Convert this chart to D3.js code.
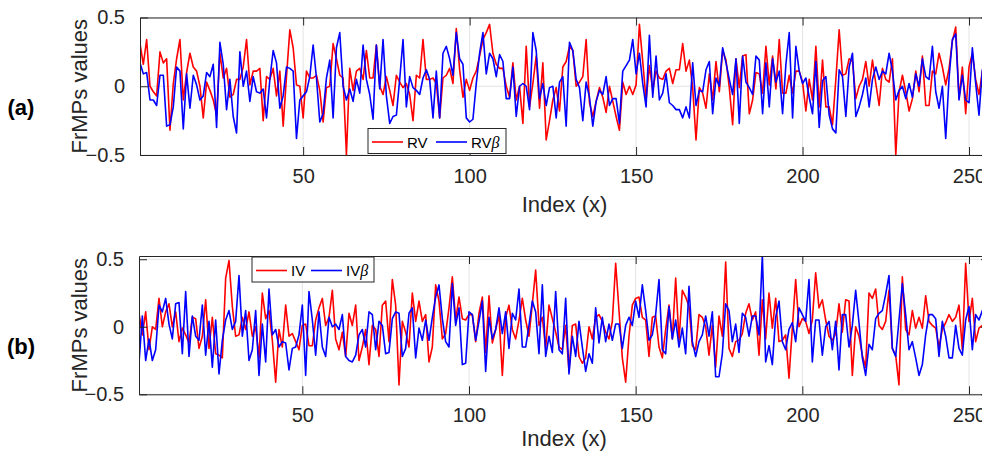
<!DOCTYPE html>
<html>
<head>
<meta charset="utf-8">
<script src="https://cdn.jsdelivr.net/npm/d3@7"></script>
<style>
  body { margin: 0; background: #fff; }
  svg { display: block; font-family: "Liberation Sans", Arial, sans-serif; }
</style>
</head>
<body>
<div id="chart"></div>
<script>
// FrMPs values, panel (a)
const rv = [
  0.31,0.16,0.34,0.00,-0.04,-0.07,0.25,0.17,0.20,-0.32,0.02,0.20,0.34,-0.10,0.10,0.24,
  0.14,0.11,0.00,-0.23,0.03,-0.03,-0.10,-0.21,0.24,0.06,0.13,-0.08,-0.06,0.05,0.05,0.14,
  0.34,0.01,0.11,0.11,0.13,-0.25,0.07,0.05,0.13,-0.07,0.11,-0.29,0.07,0.41,0.28,0.01,
  0.00,-0.23,0.11,0.06,0.06,0.08,-0.03,-0.26,-0.01,0.00,0.31,0.20,0.08,0.06,-0.50,0.13,
  -0.03,0.11,0.13,0.05,0.26,0.06,0.06,0.30,0.00,-0.06,0.07,-0.03,-0.14,0.08,0.03,-0.01,
  0.02,-0.06,-0.25,0.08,0.06,0.34,0.05,0.05,0.06,0.02,-0.23,0.06,0.08,0.13,0.02,0.42,
  0.12,-0.08,0.05,-0.03,0.06,0.11,0.22,0.34,0.39,0.45,0.24,0.16,0.13,0.13,0.00,-0.08,
  0.17,-0.10,0.00,-0.27,0.29,-0.15,0.02,0.22,-0.16,0.17,-0.39,-0.25,-0.10,-0.01,-0.18,0.14,
  0.18,0.29,0.26,0.00,0.03,0.07,0.34,-0.12,-0.22,-0.11,-0.01,-0.08,-0.19,0.00,-0.11,-0.22,
  -0.32,0.03,-0.06,0.00,-0.06,0.01,0.45,0.18,-0.10,0.15,-0.03,0.11,0.06,0.05,0.11,0.13,
  0.02,0.12,0.12,0.31,0.11,0.19,-0.01,-0.39,-0.01,-0.05,-0.16,0.09,-0.10,0.18,-0.04,0.26,
  0.19,-0.01,-0.28,0.20,-0.01,0.22,0.23,-0.20,-0.10,0.10,0.09,-0.05,0.29,0.01,0.22,-0.02,
  0.34,-0.05,-0.05,0.08,-0.05,0.11,0.11,0.03,-0.18,0.05,-0.10,0.29,-0.15,0.19,-0.15,-0.15,
  -0.28,0.05,0.41,0.08,0.09,0.20,0.18,-0.09,0.00,0.05,0.18,0.00,0.19,0.02,-0.14,0.13,
  0.05,0.03,0.20,-0.50,-0.04,0.08,-0.04,-0.18,-0.09,0.11,-0.04,0.22,-0.14,-0.14,0.11,0.09,
  0.24,0.14,0.01,0.13,0.33,0.43,-0.09,0.14,-0.20,0.14,0.24,0.05,-0.06,0.11,0.10,0.05
];
const rvBeta = [
  0.17,0.09,0.10,-0.10,-0.10,-0.14,0.08,0.08,-0.29,-0.28,-0.15,0.14,0.11,-0.31,0.09,-0.16,
  0.08,0.01,-0.10,-0.07,0.10,0.07,0.16,-0.30,0.32,0.16,-0.17,0.05,-0.22,-0.34,0.25,0.00,
  0.11,-0.11,0.07,-0.04,-0.05,-0.02,-0.23,0.05,0.26,0.17,-0.16,-0.07,0.14,0.13,0.11,-0.38,
  -0.10,-0.07,-0.04,0.07,0.30,0.06,-0.26,-0.20,0.06,0.19,-0.23,0.28,0.39,0.00,-0.10,-0.02,
  -0.11,0.05,-0.05,0.30,0.05,-0.06,-0.24,0.30,-0.02,0.34,-0.07,-0.27,-0.22,-0.21,0.05,0.34,
  -0.15,0.07,-0.01,-0.03,-0.06,0.06,0.12,0.05,-0.23,0.11,-0.23,0.24,0.29,0.20,0.08,0.39,
  0.20,0.16,-0.23,-0.26,-0.24,0.02,0.24,0.39,0.09,0.24,0.20,0.07,0.23,0.18,-0.09,-0.09,
  0.14,-0.22,0.00,0.02,0.00,-0.17,0.39,0.26,-0.09,0.02,-0.14,-0.01,0.00,-0.23,0.03,0.07,
  -0.29,0.32,0.26,0.05,-0.01,-0.25,0.03,-0.08,-0.29,-0.11,-0.03,-0.06,0.07,-0.14,-0.09,-0.09,
  -0.27,0.11,0.15,0.19,0.34,0.09,0.24,0.02,-0.15,0.37,-0.08,0.22,-0.10,-0.05,0.09,-0.12,
  -0.14,-0.17,-0.17,-0.23,-0.15,-0.23,0.17,-0.14,-0.03,-0.04,0.12,0.18,-0.20,0.06,0.00,0.28,
  0.17,0.05,-0.06,0.20,-0.27,0.22,0.03,-0.01,-0.06,0.22,0.19,-0.20,0.17,-0.15,0.20,0.03,
  0.11,-0.20,0.16,0.39,-0.23,0.29,0.11,0.02,0.06,-0.08,-0.20,0.18,-0.30,0.04,0.07,-0.21,
  -0.31,-0.34,0.12,0.07,-0.22,0.14,0.24,-0.22,-0.15,-0.06,0.06,-0.15,0.05,0.14,0.05,0.11,
  0.09,0.24,0.11,-0.10,-0.03,0.00,-0.09,0.02,-0.08,0.09,0.00,0.20,0.07,0.05,0.29,-0.04,
  -0.16,0.00,-0.38,0.06,0.34,0.38,-0.10,0.08,-0.10,-0.12,0.28,0.02,-0.21,0.12,-0.20,0.00
];
// FrMPs values, panel (b)
const iv = [
  0.10,-0.06,0.11,-0.17,0.00,-0.02,0.21,0.00,0.11,0.17,0.00,0.11,-0.11,-0.01,-0.06,-0.12,
  0.07,0.06,-0.16,-0.07,0.20,-0.16,0.07,-0.20,-0.21,-0.23,0.36,0.49,0.15,-0.07,-0.06,0.07,
  -0.02,0.11,-0.07,0.00,-0.23,0.25,0.06,0.12,-0.10,-0.41,-0.02,-0.15,0.16,-0.07,-0.05,-0.11,
  -0.17,0.01,0.02,-0.14,-0.14,0.05,0.14,0.21,0.01,0.07,0.27,-0.09,-0.17,-0.04,-0.22,0.10,
  0.01,0.16,-0.25,-0.15,-0.02,-0.28,0.01,-0.02,-0.22,0.16,0.19,-0.11,0.35,0.16,-0.43,0.04,
  -0.04,-0.15,0.25,0.04,0.19,0.04,0.09,-0.26,-0.15,0.31,0.19,-0.09,-0.05,0.14,0.37,0.05,
  0.22,0.06,0.05,0.09,0.09,-0.11,0.10,0.22,-0.19,0.23,-0.12,-0.02,0.09,-0.36,0.07,0.16,
  -0.02,-0.09,0.05,0.21,0.05,-0.07,0.17,0.42,0.01,0.07,-0.16,0.16,0.06,-0.04,-0.15,-0.17,
  0.01,-0.33,0.01,0.02,-0.22,-0.27,-0.23,0.00,-0.09,0.07,0.09,0.04,-0.04,-0.09,0.04,0.47,
  0.12,-0.23,-0.41,-0.07,0.16,0.21,0.22,0.07,0.05,-0.22,0.07,0.08,-0.15,-0.23,-0.02,0.16,
  -0.09,0.36,-0.10,0.27,0.22,0.15,-0.14,-0.17,0.09,0.07,0.00,-0.21,0.01,-0.30,0.08,-0.07,
  0.48,-0.16,-0.22,-0.11,-0.10,-0.05,0.10,0.17,0.05,0.11,-0.21,0.20,-0.09,0.25,-0.01,0.21,
  -0.11,-0.10,-0.06,-0.38,-0.01,0.35,0.00,0.06,0.04,-0.05,0.05,0.40,0.14,0.20,0.05,-0.07,
  -0.10,-0.05,0.17,-0.04,0.20,0.19,-0.36,0.00,-0.07,-0.21,-0.30,0.25,0.21,0.28,0.01,-0.02,
  0.04,0.27,-0.16,-0.21,-0.43,0.37,-0.02,-0.06,0.12,-0.01,0.07,-0.01,0.23,0.04,0.01,-0.01,
  -0.15,-0.02,0.03,0.09,0.04,0.07,0.16,-0.17,0.47,0.04,0.21,-0.11,-0.01,0.01,0.03,-0.05
];
const ivBeta = [
  -0.27,0.08,-0.25,-0.09,-0.25,-0.17,0.16,0.11,0.21,0.02,-0.09,0.17,0.18,-0.20,0.26,-0.22,
  0.08,-0.07,-0.10,0.16,-0.21,0.04,-0.30,0.05,-0.35,-0.10,0.05,0.12,-0.02,0.04,0.38,-0.07,
  0.12,-0.25,-0.17,0.12,-0.36,0.02,-0.26,0.28,-0.06,-0.02,-0.15,-0.11,-0.12,-0.32,-0.16,-0.15,
  -0.06,0.16,-0.36,0.26,0.05,-0.21,0.11,-0.15,-0.22,0.07,0.00,0.02,-0.02,0.09,-0.22,-0.25,
  -0.26,-0.21,-0.06,-0.02,-0.15,0.11,0.09,-0.17,0.04,0.01,-0.20,-0.19,0.06,0.11,0.10,-0.22,
  -0.16,0.10,0.14,-0.23,-0.01,-0.10,0.05,-0.10,0.07,0.22,0.31,0.06,-0.11,-0.15,0.32,0.01,
  0.14,-0.28,-0.27,0.11,0.09,-0.10,0.04,0.19,-0.33,0.07,-0.09,-0.02,0.14,-0.05,0.11,-0.16,
  0.10,0.05,0.28,-0.15,-0.15,0.01,0.19,0.11,-0.20,0.31,-0.22,-0.07,-0.19,0.26,-0.17,-0.20,
  0.21,-0.35,-0.07,-0.22,0.04,-0.15,-0.33,-0.20,-0.27,0.14,-0.12,0.07,-0.11,0.02,-0.10,0.02,
  0.02,-0.16,0.01,0.07,0.01,0.19,0.07,0.31,0.12,-0.10,-0.06,0.09,0.35,-0.17,-0.20,0.15,
  -0.09,0.05,-0.15,-0.01,-0.20,0.30,-0.11,-0.22,-0.11,-0.06,0.08,-0.07,0.11,-0.37,-0.37,-0.20,
  0.17,0.12,-0.11,0.02,-0.19,0.10,0.07,-0.07,0.08,0.08,-0.06,0.53,-0.26,-0.14,-0.28,0.07,
  0.19,-0.11,-0.17,-0.02,0.03,-0.11,0.14,0.09,0.04,0.35,-0.26,0.05,0.05,-0.21,0.00,0.04,
  -0.17,0.04,-0.32,0.09,0.09,-0.15,0.01,0.27,0.03,-0.23,-0.36,-0.13,-0.17,0.06,0.10,0.12,
  0.24,0.38,-0.16,-0.22,0.05,0.32,0.09,-0.17,-0.11,-0.23,-0.36,-0.28,-0.06,0.09,0.09,0.06,
  -0.22,0.04,-0.07,-0.23,-0.23,0.01,-0.16,-0.21,0.05,0.15,-0.17,0.09,0.05,0.12,0.10,0.05
];
const xTicks = [50, 100, 150, 200, 250];
const yTicks = [-0.5, 0, 0.5];

const width = 982, height = 455;
const axisColor = "#262626", gridColor = "#e3e3e3";

const svg = d3.select("#chart").append("svg")
    .attr("width", width)
    .attr("height", height);

let drawPanel = function(opt) {
    const x = d3.scaleLinear().domain([1, 256]).range([opt.left, opt.right]);
    const y = d3.scaleLinear().domain(opt.yDomain).range([opt.bottom, opt.top]);
    const g = svg.append("g");

    // grid
    g.selectAll(".vgrid").data(xTicks).join("line")
        .attr("x1", d => x(d)).attr("x2", d => x(d))
        .attr("y1", opt.top).attr("y2", opt.bottom)
        .attr("stroke", gridColor).attr("stroke-width", 1);
    g.selectAll(".hgrid").data(yTicks).join("line")
        .attr("x1", opt.left).attr("x2", opt.right)
        .attr("y1", d => y(d)).attr("y2", d => y(d))
        .attr("stroke", gridColor).attr("stroke-width", 1);

    // data lines, clipped to the axes box
    const clipId = "clip-" + opt.name;
    svg.append("clipPath").attr("id", clipId)
        .append("rect")
        .attr("x", opt.left).attr("y", opt.top)
        .attr("width", opt.right - opt.left).attr("height", opt.bottom - opt.top);

    const line = d3.line().x((d, i) => x(i + 1)).y(d => y(d));
    const lines = g.append("g").attr("clip-path", `url(#${clipId})`);
    opt.series.forEach(s => {
        lines.append("path")
            .datum(s.values)
            .attr("d", line)
            .attr("fill", "none")
            .attr("stroke", s.color)
            .attr("stroke-width", 1.6)
            .attr("stroke-linejoin", "round");
    });

    // axes
    g.append("g")
        .attr("transform", `translate(0,${opt.bottom})`)
        .call(d3.axisBottom(x).tickValues(xTicks).tickSizeInner(-8).tickSizeOuter(0).tickPadding(14));
    g.append("g")
        .attr("transform", `translate(0,${opt.top})`)
        .call(d3.axisTop(x).tickValues(xTicks).tickSizeInner(-8).tickSizeOuter(0).tickFormat(""));
    g.append("g")
        .attr("transform", `translate(${opt.left},0)`)
        .call(d3.axisLeft(y).tickValues(yTicks).tickSizeInner(-8).tickSizeOuter(0).tickPadding(15)
            .tickFormat(d => d === 0 ? "0" : d3.format(".1f")(d)));
    g.append("g")
        .attr("transform", `translate(${opt.right},0)`)
        .call(d3.axisRight(y).tickValues(yTicks).tickSizeInner(-8).tickSizeOuter(0).tickFormat(""));

    g.selectAll(".domain").attr("stroke", axisColor).attr("stroke-width", 1);
    g.selectAll(".tick line").attr("stroke", axisColor).attr("stroke-width", 1);
    g.selectAll(".tick text")
        .attr("fill", axisColor)
        .style("font-size", "20px")
        .style("font-family", "'Liberation Sans', Arial, sans-serif");

    // axis titles
    g.append("text")
        .attr("x", (opt.left + opt.right) / 2)
        .attr("y", opt.bottom + opt.xLabelGap)
        .attr("text-anchor", "middle")
        .attr("fill", axisColor)
        .style("font-size", "22px")
        .text("Index (x)");
    g.append("text")
        .attr("transform", `translate(87,${(opt.top + opt.bottom) / 2}) rotate(-90)`)
        .attr("text-anchor", "middle")
        .attr("fill", axisColor)
        .style("font-size", "22px")
        .text("FrMPs values");

    // panel tag
    g.append("text")
        .attr("x", 21)
        .attr("y", (opt.top + opt.bottom) / 2 + opt.tagShift)
        .attr("text-anchor", "middle")
        .attr("fill", "#000")
        .style("font-size", "22px")
        .style("font-weight", "bold")
        .text(opt.tag);

    // legend
    const lg = g.append("g").attr("transform", `translate(${opt.legend.x},${opt.legend.y})`);
    lg.append("rect")
        .attr("width", opt.legend.w).attr("height", 25)
        .attr("fill", "#fff").attr("stroke", axisColor).attr("stroke-width", 1);
    opt.series.forEach((s, k) => {
        const ox = opt.legend.items[k];
        lg.append("line")
            .attr("x1", ox).attr("x2", ox + 31)
            .attr("y1", 13.5).attr("y2", 13.5)
            .attr("stroke", s.color).attr("stroke-width", 1.6);
        const t = lg.append("text")
            .attr("x", ox + 35).attr("y", 19)
            .attr("fill", "#000")
            .style("font-size", "15px");
        t.append("tspan").text(s.label);
        if (s.beta) {
            t.append("tspan")
                .style("font-family", "'Liberation Serif', 'DejaVu Serif', serif")
                .style("font-style", "italic")
                .style("font-size", "16px")
                .text("β");
        }
    });
};

drawPanel({
    name: "a", tag: "(a)", tagShift: 29, xLabelGap: 57,
    left: 140, right: 989, top: 17.5, bottom: 155,
    yDomain: [-0.5, 0.5],
    series: [
        {label: "RV", values: rv, color: "#ff0000", beta: false},
        {label: "RV", values: rvBeta, color: "#0000ff", beta: true}
    ],
    legend: {x: 368, y: 128.5, w: 138, items: [4, 68]}
});

drawPanel({
    name: "b", tag: "(b)", tagShift: 29, xLabelGap: 52,
    left: 139, right: 989, top: 256, bottom: 394.3,
    yDomain: [-0.5, 0.524],
    series: [
        {label: "IV", values: iv, color: "#ff0000", beta: false},
        {label: "IV", values: ivBeta, color: "#0000ff", beta: true}
    ],
    legend: {x: 252, y: 257, w: 122, items: [4, 59]}
});
</script>
</body>
</html>
